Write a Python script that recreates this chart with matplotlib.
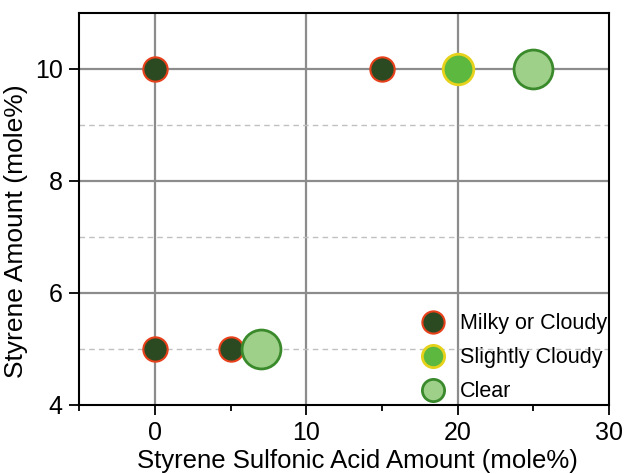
import matplotlib
matplotlib.use("Agg")
import matplotlib.pyplot as plt
from matplotlib.ticker import MultipleLocator
from matplotlib.lines import Line2D

plt.rcParams['font.family'] = ['Liberation Sans', 'DejaVu Sans']

# Data
milky_x = [0, 15, 0, 5]
milky_y = [10, 10, 5, 5]
slight_x = [20]
slight_y = [10]
clear_x = [25, 7]
clear_y = [10, 5]
labels = ["Milky or Cloudy", "Slightly Cloudy", "Clear"]

fig = plt.figure(figsize=(6.24, 4.74), dpi=100)
ax = fig.add_axes([0.127, 0.146, 0.849, 0.827])

ax.set_xlim(-5, 30)
ax.set_ylim(4, 11)

# grid
for xv in [0, 10, 20]:
    ax.axvline(xv, color='#8c8c8c', lw=1.6, zorder=1)
for yv in [6, 8, 10]:
    ax.axhline(yv, color='#8c8c8c', lw=1.6, zorder=1)
for yv in [5, 7, 9]:
    ax.axhline(yv, color='#c0c0c0', lw=1.0, ls=(0, (4, 3)), zorder=1)

ax.plot(milky_x, milky_y, 'o', ms=17.5, mfc='#2b4a22', mec='#e8401a', mew=1.5, ls='none', zorder=3)
ax.plot(slight_x, slight_y, 'o', ms=22, mfc='#5cb83f', mec='#e6d21a', mew=2, ls='none', zorder=3)
ax.plot(clear_x, clear_y, 'o', ms=28, mfc='#9ed08a', mec='#3a8a2c', mew=2, ls='none', zorder=3)

handles = [
    Line2D([], [], marker='o', ls='none', ms=16, mfc='#2b4a22', mec='#e8401a', mew=1.5),
    Line2D([], [], marker='o', ls='none', ms=16, mfc='#5cb83f', mec='#e6d21a', mew=2),
    Line2D([], [], marker='o', ls='none', ms=16, mfc='#9ed08a', mec='#3a8a2c', mew=2),
]
ax.legend(handles, labels, loc='lower right', frameon=False, fontsize=15.5,
          handletextpad=0.45, labelspacing=0.6, borderaxespad=0.0, borderpad=0.3,
          handlelength=1.6, bbox_to_anchor=(1.008, -0.01))

ax.xaxis.set_major_locator(MultipleLocator(10))
ax.xaxis.set_minor_locator(MultipleLocator(5))
ax.yaxis.set_major_locator(MultipleLocator(2))
ax.tick_params(axis='both', which='major', direction='out', length=7, width=1.3, labelsize=18, pad=5)
ax.tick_params(axis='x', which='minor', direction='out', length=4.5, width=1.3)
ax.tick_params(axis='y', which='minor', left=False)
for s in ax.spines.values():
    s.set_linewidth(1.5)

ax.set_xlabel("Styrene Sulfonic Acid Amount (mole%)", fontsize=18.5)
ax.set_ylabel("Styrene Amount (mole%)", fontsize=19)
ax.xaxis.set_label_coords(0.525, -0.112)
ax.yaxis.set_label_coords(-0.096, 0.444)

fig.savefig("out.png", dpi=100)
